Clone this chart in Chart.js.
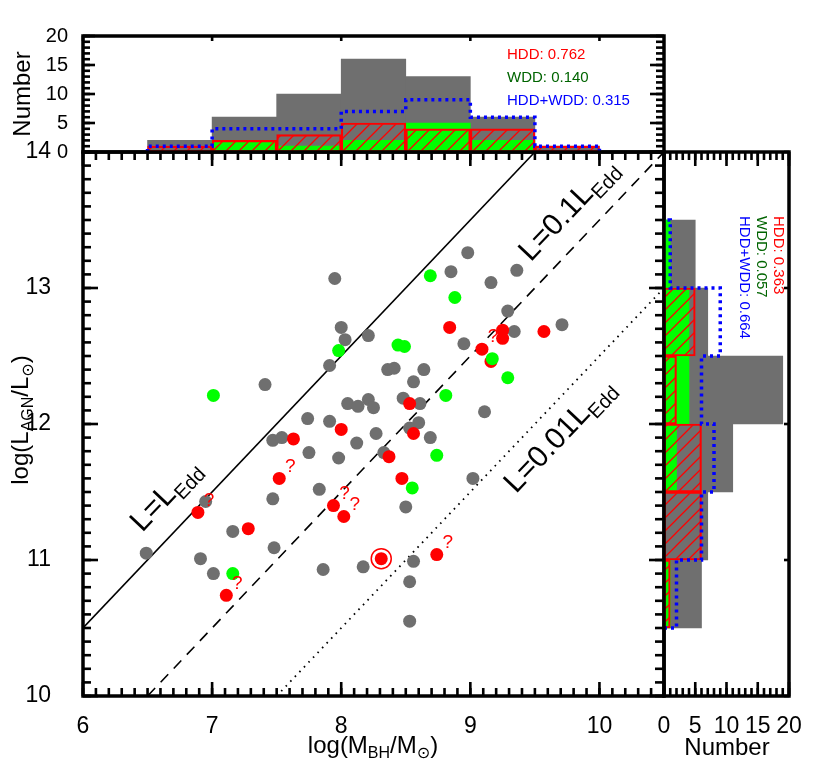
<!DOCTYPE html>
<html>
<head>
<meta charset="utf-8">
<script src="https://cdn.jsdelivr.net/npm/chart.js@4.4.1/dist/chart.umd.min.js"></script>
<style>
html, body { margin: 0; padding: 0; background: #fff; }
#wrap { position: relative; width: 830px; height: 774px; }
#wrap canvas { position: absolute; left: 0; top: 0; pointer-events: none; }
</style>
</head>
<body>
<div id="wrap">
  <canvas id="main" width="830" height="774"></canvas>
  <canvas id="top" width="830" height="774"></canvas>
  <canvas id="right" width="830" height="774"></canvas>
</div>
<script>
// scatter: grey = all sources, red = HDD, green = WDD
var greyMass = [7.95, 8.00, 8.03, 7.91, 7.41, 7.74, 7.91, 7.47, 7.54, 8.98, 8.85, 9.36, 9.16, 9.29, 9.71, 9.34,
                8.21, 8.95, 8.36, 8.41, 8.64, 8.56, 9.11, 8.48, 8.61, 8.05, 8.13, 8.21, 8.25, 8.60, 8.53, 8.69,
                8.27, 8.12, 7.98, 8.33, 9.02, 8.50, 8.17, 8.56, 8.53, 8.53, 7.75, 7.83, 7.47, 6.95, 7.16, 6.49,
                7.48, 6.91, 7.01, 7.86];
var greyLum  = [13.07, 12.71, 12.62, 12.43, 12.29, 12.04, 12.02, 11.88, 11.90, 13.26, 13.12, 13.13, 13.04, 12.83, 12.73, 12.68,
                12.65, 12.59, 12.40, 12.41, 12.40, 12.31, 12.09, 12.19, 12.15, 12.15, 12.13, 12.18, 12.12, 12.01, 11.97, 11.90,
                11.93, 11.86, 11.75, 11.79, 11.60, 11.39, 10.95, 10.99, 10.84, 10.55, 11.79, 11.52, 11.45, 11.43, 11.21, 11.05,
                11.09, 11.01, 10.90, 10.93];

var hddMass  = [8.00, 7.63, 8.84, 9.25, 9.25, 9.57, 9.09, 9.16, 8.53, 8.56, 8.37, 8.47, 7.94, 8.02, 8.31, 8.74, 7.52, 6.89, 7.28, 7.11];
var hddLum   = [11.96, 11.89, 12.71, 12.69, 12.63, 12.68, 12.55, 12.46, 12.15, 11.93, 11.76, 11.60, 11.40, 11.32, 11.01, 11.04, 11.60, 11.35, 11.23, 10.74];
var hddQuery = [0, 0, 0, 0, 0, 0, 1, 0, 0, 0, 0, 0, 1, 1, 0, 1, 1, 1, 0, 1];   // 1 = uncertain, marked with "?"

var wddMass  = [7.98, 7.01, 8.69, 8.88, 8.44, 8.49, 9.17, 9.29, 8.81, 8.74, 8.55, 7.16];
var wddLum   = [12.54, 12.21, 13.09, 12.93, 12.58, 12.57, 12.48, 12.34, 12.21, 11.77, 11.53, 10.90];

var circledMass = [8.31];
var circledLum  = [11.01];

// Eddington ratio lines (end points on the frame)
var eddMass    = [6.0, 9.5];   var eddLum    = [10.5, 14.0];
var edd01Mass  = [6.5, 10.5];  var edd01Lum  = [10.0, 14.0];
var edd001Mass = [7.5, 10.5];  var edd001Lum = [10.0, 13.0];

// histograms, bins of 0.5 dex (centres)
var massBins = [6.75, 7.25, 7.75, 8.25, 8.75, 9.25, 9.75];
var massAll  = [2, 6, 10, 16, 13, 6, 1];
var massHDD  = [1, 2, 3, 5, 4, 4, 1];
var massWDD  = [0, 2, 1, 2, 5, 2, 0];
var massBoth = [1, 4, 4, 7, 9, 6, 1];

var lumBins = [10.75, 11.25, 11.75, 12.25, 12.75, 13.25];
var lumAll  = [6, 7, 11, 19, 7, 5];
var lumHDD  = [1, 6, 6, 2, 5, 0];
var lumWDD  = [1, 0, 2, 4, 4, 1];
var lumBoth = [2, 6, 8, 6, 9, 1];

var massTicks  = [6, 7, 8, 9, 10];
var lumTicks   = [10, 11, 12, 13, 14];
var countTicks = [0, 5, 10, 15, 20];

var topText   = ['HDD: 0.762', 'WDD: 0.140', 'HDD+WDD: 0.315'];
var rightText = ['HDD: 0.363', 'WDD: 0.057', 'HDD+WDD: 0.664'];

var FONT = "'Liberation Sans', Arial, Helvetica, 'DejaVu Sans', sans-serif";
var GREY = '#6f6f6f', RED = '#ff0000', GREEN = '#00ff00', DGREEN = '#006400', BLUE = '#0000ff';
Chart.defaults.font.family = FONT;
Chart.defaults.color = '#000';

function pairs(xs, ys) {
    return xs.map(function (x, i) { return { x: x, y: ys[i] }; });
}
function bars(centres, counts, horiz) {
    return centres.map(function (c, i) { return horiz ? { x: counts[i], y: c } : { x: c, y: counts[i] }; });
}
// outline of a histogram as a polyline
function steps(centres, counts, horiz) {
    var pts = [], h = 0.25;
    function p(b, n) { pts.push(horiz ? { x: n, y: b } : { x: b, y: n }); }
    p(centres[0] - h, 0);
    centres.forEach(function (c, i) { p(c - h, counts[i]); p(c + h, counts[i]); });
    p(centres[centres.length - 1] + h, 0);
    return pts;
}
function hatch(canvas) {
    var t = document.createElement('canvas');
    t.width = t.height = 13;
    var g = t.getContext('2d');
    g.strokeStyle = RED; g.lineWidth = 1.3;
    g.beginPath();
    g.moveTo(-1, 14); g.lineTo(14, -1);
    g.moveTo(-7, 7); g.lineTo(7, -7);
    g.moveTo(6, 20); g.lineTo(20, 6);
    g.stroke();
    return canvas.getContext('2d').createPattern(t, 'repeat');
}
function rich(ctx, parts, x, y, rot, align) {
    ctx.save();
    ctx.translate(x, y);
    ctx.rotate(rot);
    ctx.textAlign = 'left';
    ctx.textBaseline = 'alphabetic';
    var w = 0;
    parts.forEach(function (p) { ctx.font = p[1] + 'px ' + FONT; w += ctx.measureText(p[0]).width; });
    var cx = align === 'center' ? -w / 2 : 0;
    parts.forEach(function (p) {
        ctx.font = p[1] + 'px ' + FONT;
        ctx.fillText(p[0], cx, p[2]);
        cx += ctx.measureText(p[0]).width;
    });
    ctx.restore();
}
// tick marks pointing inside the frame, drawn as small filled bars
function tickRow(ctx, scale, from, to, step, edge, len, dir, horiz) {
    var n = Math.round((to - from) / step), w = 2.6;
    ctx.fillStyle = '#000';
    for (var i = 0; i <= n; i++) {
        var px = scale.getPixelForValue(from + i * step);
        if (horiz) ctx.fillRect(px - w / 2, dir > 0 ? edge : edge - len, w, len);
        else ctx.fillRect(dir > 0 ? edge : edge - len, px - w / 2, len, w);
    }
}
function frame(ctx, a) {
    ctx.setLineDash([]);
    ctx.lineWidth = 3.5;
    ctx.strokeStyle = '#000';
    ctx.strokeRect(a.left, a.top, a.right - a.left, a.bottom - a.top);
}

var noUi = { legend: { display: false }, tooltip: { enabled: false } };

// ---------- main scatter ----------
var mainDecor = {
    id: 'mainDecor',
    afterDraw: function (chart) {
        var ctx = chart.ctx, a = chart.chartArea, xs = chart.scales.x, ys = chart.scales.y;
        ctx.save();
        tickRow(ctx, xs, 6, 10.5, 0.1, a.bottom, 8, -1, true);
        tickRow(ctx, xs, 6, 10, 1, a.bottom, 14, -1, true);
        tickRow(ctx, xs, 6, 10.5, 0.1, a.top, 8, 1, true);
        tickRow(ctx, xs, 6, 10, 1, a.top, 14, 1, true);
        tickRow(ctx, ys, 10, 14, 0.1, a.left, 8, 1, false);
        tickRow(ctx, ys, 10, 14, 1, a.left, 15, 1, false);
        tickRow(ctx, ys, 10, 14, 0.1, a.right, 9, -1, false);
        tickRow(ctx, ys, 10, 14, 1, a.right, 15, -1, false);
        frame(ctx, a);

        // question marks next to uncertain HDD points
        var meta = chart.getDatasetMeta(1);
        ctx.fillStyle = RED;
        ctx.font = '19px ' + FONT;
        ctx.textAlign = 'center';
        ctx.textBaseline = 'middle';
        meta.data.forEach(function (pt, i) {
            if (hddQuery[i]) ctx.fillText('?', pt.x + 11, pt.y - 12);
        });

        // Eddington labels along the lines
        var ang = Math.atan2(ys.getPixelForValue(1) - ys.getPixelForValue(0), xs.getPixelForValue(1) - xs.getPixelForValue(0));
        ctx.fillStyle = '#000';
        [['L=L', 6.69, 11.43], ['L=0.1L', 9.81, 13.53], ['L=0.01L', 9.74, 11.87]].forEach(function (l) {
            rich(ctx, [[l[0], 30, 0], ['Edd', 20, 7]], xs.getPixelForValue(l[1]), ys.getPixelForValue(l[2]), ang, 'center');
        });

        rich(ctx, [['log(M', 24, 0], ['BH', 16, 5], ['/M', 24, 0], ['\u2299', 16, 5], [')', 24, 0]], 373, 753, 0, 'center');
        rich(ctx, [['log(L', 24, 0], ['AGN', 16, 5], ['/L', 24, 0], ['\u2299', 16, 5], [')', 24, 0]], 28, 420, -Math.PI / 2, 'center');
        ctx.restore();
    }
};

new Chart(document.getElementById('main'), {
    type: 'scatter',
    data: {
        datasets: [
            { label: 'WDD', data: pairs(wddMass, wddLum), backgroundColor: GREEN, pointRadius: 6.5, pointBorderWidth: 0, order: 1 },
            { label: 'HDD', data: pairs(hddMass, hddLum), backgroundColor: RED, pointRadius: 6.5, pointBorderWidth: 0, order: 2 },
            { label: 'ring', data: pairs(circledMass, circledLum), backgroundColor: '#fff', borderColor: RED, pointBorderWidth: 1.5, pointRadius: 10, order: 3 },
            { label: 'all', data: pairs(greyMass, greyLum), backgroundColor: GREY, pointRadius: 6.5, pointBorderWidth: 0, order: 4 },
            { label: 'L=LEdd', data: pairs(eddMass, eddLum), showLine: true, borderColor: '#000', borderWidth: 1.6, pointRadius: 0, order: 5 },
            { label: 'L=0.1LEdd', data: pairs(edd01Mass, edd01Lum), showLine: true, borderColor: '#000', borderWidth: 1.6, borderDash: [11, 8], pointRadius: 0, order: 5 },
            { label: 'L=0.01LEdd', data: pairs(edd001Mass, edd001Lum), showLine: true, borderColor: '#000', borderWidth: 1.8, borderDash: [1.6, 5], pointRadius: 0, order: 5 }
        ]
    },
    options: {
        responsive: false,
        animation: false,
        events: [],
        layout: { padding: { left: 0, top: 152, right: 166, bottom: 0 } },
        plugins: noUi,
        scales: {
            x: {
                type: 'linear', min: 6, max: 10.5,
                grid: { display: false }, border: { display: false },
                afterBuildTicks: function (s) { s.ticks = massTicks.map(function (v) { return { value: v }; }); },
                afterFit: function (s) { s.height = 78; },
                ticks: { font: { size: 23 }, padding: 9, maxRotation: 0, autoSkip: false }
            },
            y: {
                type: 'linear', min: 10, max: 14,
                grid: { display: false }, border: { display: false },
                afterBuildTicks: function (s) { s.ticks = lumTicks.map(function (v) { return { value: v }; }); },
                afterFit: function (s) { s.width = 83; },
                ticks: { font: { size: 23 }, padding: 24, autoSkip: false }
            }
        }
    },
    plugins: [mainDecor]
});

// ---------- top histogram (BH mass) ----------
var topCanvas = document.getElementById('top');
new Chart(topCanvas, {
    type: 'bar',
    data: {
        datasets: [
            { type: 'line', data: steps(massBins, massBoth, false), borderColor: BLUE, borderWidth: 3.5, borderDash: [3, 4], pointRadius: 0, order: 1 },
            { data: bars(massBins, massHDD, false), backgroundColor: hatch(topCanvas), borderColor: RED, borderWidth: 1.5, borderSkipped: false, order: 2 },
            { data: bars(massBins, massWDD, false), backgroundColor: GREEN, order: 3 },
            { data: bars(massBins, massAll, false), backgroundColor: GREY, order: 4 }
        ]
    },
    options: {
        responsive: false,
        animation: false,
        events: [],
        layout: { padding: { left: 0, top: 36, right: 166, bottom: 622 } },
        plugins: noUi,
        datasets: { bar: { grouped: false, barPercentage: 1, categoryPercentage: 1 } },
        scales: {
            x: { type: 'linear', min: 6, max: 10.5, offset: false, display: false },
            y: {
                type: 'linear', min: 0, max: 20,
                grid: { display: false }, border: { display: false },
                afterBuildTicks: function (s) { s.ticks = countTicks.map(function (v) { return { value: v }; }); },
                afterFit: function (s) { s.width = 83; },
                ticks: { font: { size: 20 }, padding: 7, autoSkip: false }
            }
        }
    },
    plugins: [{
        id: 'topDecor',
        afterDraw: function (chart) {
            var ctx = chart.ctx, a = chart.chartArea, xs = chart.scales.x, ys = chart.scales.y;
            ctx.save();
            tickRow(ctx, ys, 0, 20, 1, a.left, 7, 1, false);
            tickRow(ctx, ys, 0, 20, 5, a.left, 12, 1, false);
            tickRow(ctx, ys, 0, 20, 1, a.right, 8, -1, false);
            tickRow(ctx, ys, 0, 20, 5, a.right, 14, -1, false);
            tickRow(ctx, xs, 6, 10, 1, a.top, 5, 1, true);
            frame(ctx, a);
            ctx.font = '15px ' + FONT;
            ctx.textAlign = 'left';
            ctx.textBaseline = 'middle';
            [RED, DGREEN, BLUE].forEach(function (c, i) {
                ctx.fillStyle = c;
                ctx.fillText(topText[i], 507, 55 + i * 23);
            });
            ctx.fillStyle = '#000';
            rich(ctx, [['Number', 24, 0]], 30, 94, -Math.PI / 2, 'center');
            ctx.restore();
        }
    }]
});

// ---------- right histogram (luminosity) ----------
var rightCanvas = document.getElementById('right');
new Chart(rightCanvas, {
    type: 'bar',
    data: {
        datasets: [
            { type: 'line', data: steps(lumBins, lumBoth, true), borderColor: BLUE, borderWidth: 3.5, borderDash: [3, 4], pointRadius: 0, order: 1 },
            { data: bars(lumBins, lumHDD, true), backgroundColor: hatch(rightCanvas), borderColor: RED, borderWidth: 1.5, borderSkipped: false, order: 2 },
            { data: bars(lumBins, lumWDD, true), backgroundColor: GREEN, order: 3 },
            { data: bars(lumBins, lumAll, true), backgroundColor: GREY, order: 4 }
        ]
    },
    options: {
        indexAxis: 'y',
        responsive: false,
        animation: false,
        events: [],
        layout: { padding: { left: 664, top: 152, right: 41, bottom: 0 } },
        plugins: noUi,
        datasets: { bar: { grouped: false, barPercentage: 1, categoryPercentage: 1 } },
        scales: {
            y: { type: 'linear', min: 10, max: 14, offset: false, display: false },
            x: {
                type: 'linear', min: 0, max: 20, offset: false,
                grid: { display: false }, border: { display: false },
                afterBuildTicks: function (s) { s.ticks = countTicks.map(function (v) { return { value: v }; }); },
                afterFit: function (s) { s.height = 78; },
                ticks: { font: { size: 23 }, padding: 9, maxRotation: 0, autoSkip: false }
            }
        }
    },
    plugins: [{
        id: 'rightDecor',
        afterDraw: function (chart) {
            var ctx = chart.ctx, a = chart.chartArea, xs = chart.scales.x, ys = chart.scales.y;
            ctx.save();
            tickRow(ctx, xs, 0, 20, 1, a.top, 8, 1, true);
            tickRow(ctx, xs, 0, 20, 5, a.top, 14, 1, true);
            tickRow(ctx, xs, 0, 20, 1, a.bottom, 8, -1, true);
            tickRow(ctx, xs, 0, 20, 5, a.bottom, 14, -1, true);
            tickRow(ctx, ys, 10, 14, 1, a.right, 5, -1, false);
            frame(ctx, a);
            ctx.font = '15px ' + FONT;
            ctx.textAlign = 'left';
            ctx.textBaseline = 'middle';
            [[RED, 778], [DGREEN, 761], [BLUE, 744]].forEach(function (c, i) {
                ctx.save();
                ctx.translate(c[1], 216);
                ctx.rotate(Math.PI / 2);
                ctx.fillStyle = c[0];
                ctx.fillText(rightText[i], 0, 0);
                ctx.restore();
            });
            ctx.fillStyle = '#000';
            rich(ctx, [['Number', 24, 0]], 727, 755, 0, 'center');
            ctx.restore();
        }
    }]
});
</script>
</body>
</html>
